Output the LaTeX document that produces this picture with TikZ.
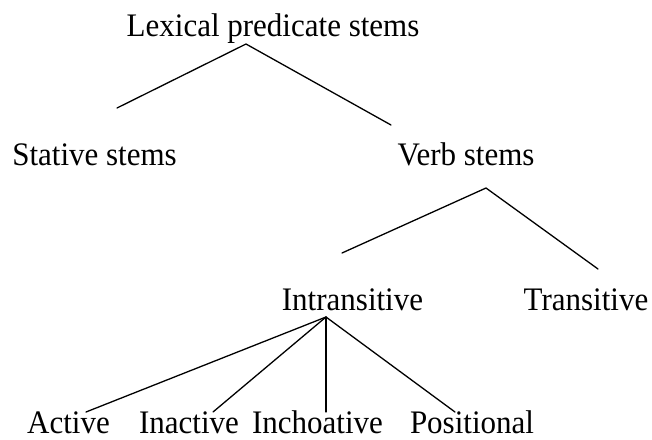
\documentclass[tikz,border=0pt]{standalone}
\usepackage{fontspec}
\setmainfont{Liberation Serif}
\newcommand{\tallt}[1]{\scalebox{1}[1.06]{#1}}
\begin{document}
\begin{tikzpicture}[x=1pt,y=-1pt,
  lbl/.style={font=\fontsize{31}{37}\selectfont, inner sep=0pt, anchor=base},
  edge/.style={line width=1.3pt, line cap=round, line join=miter}]
\useasboundingbox (0,0) rectangle (652,439);
% labels
\node[lbl] (lex) at (273,36) {\tallt{Lexical predicate stems}};
\node[lbl] (stative) at (94.5,165) {\tallt{Stative stems}};
\node[lbl] (verb) at (466,165) {\tallt{Verb stems}};
\node[lbl] (intr) at (352.5,310) {\tallt{Intransitive}};
\node[lbl] (trans) at (586,310) {\tallt{Transitive}};
\node[lbl] (active) at (68.5,433) {\tallt{Active}};
\node[lbl] (inactive) at (189,433) {\tallt{Inactive}};
\node[lbl] (inch) at (317.5,433) {\tallt{Inchoative}};
\node[lbl] (posit) at (472,433) {\tallt{Positional}};
% attachment points
\coordinate (lexB) at (246,44);
\coordinate (statT) at (117,108);
\coordinate (verbT) at (391,125);
\coordinate (verbB) at (486,188);
\coordinate (intrT) at (342,253);
\coordinate (transT) at (598,269);
\coordinate (intrB) at (326,317);
\coordinate (actT) at (86,412);
\coordinate (inactT) at (213,412);
\coordinate (inchT) at (326,412);
\coordinate (posT) at (455,412);
% connectors
\draw[edge] (statT) -- (lexB) -- (verbT);
\draw[edge] (intrT) -- (verbB) -- (transT);
\draw[edge] (intrB) -- (actT);
\draw[edge] (intrB) -- (inactT);
\draw[edge] (intrB) -- (inchT);
\draw[edge] (intrB) -- (posT);
\end{tikzpicture}
\end{document}
